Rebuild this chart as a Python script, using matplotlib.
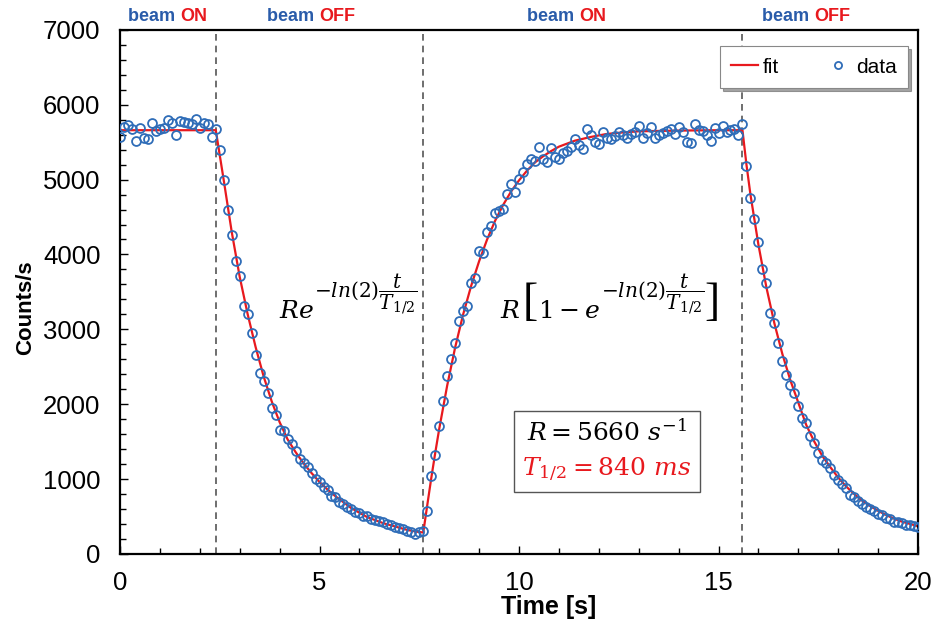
import numpy as np
import matplotlib
matplotlib.use("Agg")
import matplotlib.pyplot as plt
import matplotlib.transforms as mtransforms
from matplotlib.offsetbox import TextArea, VPacker, AnchoredOffsetbox
from matplotlib.ticker import MultipleLocator

plt.rcParams['font.family'] = ['Liberation Sans', 'DejaVu Sans']
plt.rcParams['mathtext.fontset'] = 'dejavuserif'

# measured counts, one point every 0.1 s from t = 0 to 20 s
counts = [
    # beam ON
    5570, 5700, 5730, 5680, 5520, 5690, 5560, 5540, 5760, 5650,
    5670, 5690, 5790, 5760, 5600, 5780, 5770, 5760, 5740, 5810,
    5690, 5750, 5740, 5570, 5680,
    # beam OFF
    5400, 5000, 4600, 4260, 3910, 3710, 3310, 3200, 2950, 2660,
    2420, 2310, 2150, 1950, 1860, 1660, 1640, 1530, 1470, 1380,
    1270, 1220, 1165, 1080, 1000, 960, 900, 850, 780, 760,
    690, 660, 620, 600, 560, 540, 510, 500, 470, 450,
    440, 420, 400, 390, 360, 350, 330, 310, 290, 260,
    290, 310,
    # beam ON
    570, 1035, 1325, 1705, 2040, 2375, 2600, 2820, 3110, 3245,
    3310, 3625, 3690, 4045, 4025, 4295, 4380, 4560, 4580, 4605,
    4805, 4940, 4830, 5005, 5095, 5205, 5275, 5250, 5430, 5280,
    5230, 5420, 5300, 5270, 5350, 5380, 5440, 5540, 5460, 5410,
    5670, 5590, 5500, 5470, 5630, 5560, 5540, 5580, 5630, 5600,
    5560, 5610, 5640, 5720, 5560, 5620, 5700, 5560, 5590, 5620,
    5650, 5680, 5610, 5700, 5640, 5500, 5490, 5740, 5660, 5650,
    5600, 5520, 5690, 5620, 5720, 5630, 5660, 5680, 5590, 5740,
    # beam OFF
    5185, 4760, 4470, 4160, 3800, 3625, 3220, 3090, 2820, 2575,
    2395, 2260, 2150, 1970, 1815, 1750, 1570, 1480, 1345, 1260,
    1215, 1150, 1060, 990, 940, 880, 790, 760, 700, 670,
    630, 600, 570, 530, 520, 480, 460, 430, 420, 410,
    390, 380, 370, 360,
]
t_data = np.arange(len(counts)) * 0.1

# fit curve
fit_t = [0.0, 2.4, 2.6, 2.8, 3.0, 3.2, 3.4, 3.6, 3.8, 4.0, 4.2, 4.4, 4.6, 4.8,
         5.0, 5.2, 5.4, 5.6, 5.8, 6.0, 6.2, 6.4, 6.6, 6.8, 7.0, 7.2, 7.4, 7.6,
         7.7, 7.8, 7.9, 8.0, 8.2, 8.4, 8.6, 8.8, 9.0, 9.2, 9.4, 9.6, 9.8,
         10.0, 10.2, 10.4, 10.6, 10.8, 11.0, 11.4, 11.8, 12.2, 12.6, 13.0,
         14.0, 15.0, 15.6, 15.7, 15.8, 16.0, 16.2, 16.4, 16.6, 16.8, 17.0,
         17.2, 17.4, 17.6, 17.8, 18.0, 18.2, 18.4, 18.6, 18.8, 19.0, 19.2,
         19.4, 19.6, 19.8, 20.0]
fit_y = [5660, 5660, 4990, 4300, 3700, 3200, 2760, 2370, 2040, 1760, 1530,
         1360, 1210, 1080, 960, 860, 770, 690, 610, 550, 490, 450, 410, 380,
         350, 320, 300, 285,
         650, 1010, 1350, 1670, 2250, 2760, 3200, 3580, 3910, 4200, 4450,
         4660, 4840, 4990, 5120, 5230, 5310, 5380, 5440, 5520, 5570, 5610,
         5630, 5645, 5655, 5660, 5660,
         5200, 4800, 4130, 3560, 3080, 2670, 2320, 2020, 1720, 1500, 1310,
         1160, 1020, 900, 800, 710, 640, 575, 520, 470, 430, 400, 370]

switch_times = [2.4, 7.6, 15.6]
beam_labels = [(1.5, 'ON'), (5.0, 'OFF'), (11.5, 'ON'), (17.4, 'OFF')]

blue = '#2f6db8'
red = '#e8191e'
label_blue = '#2a5caa'

fig = plt.figure(figsize=(9.34, 6.28), dpi=100)
ax = fig.add_axes([0.1285, 0.118, 0.8544, 0.8344])
renderer = fig.canvas.get_renderer()

for ts in switch_times:
    ax.axvline(ts, color='#555555', lw=1.2, ls=(0, (4, 3)), zorder=1)

ax.plot(fit_t, fit_y, color=red, lw=1.6, label='fit', zorder=2)
ax.plot(t_data, counts, 'o', ms=6.4, mfc='none', mec=blue, mew=1.3,
        label='data', zorder=3)

ax.set_xlim(0, 20)
ax.set_ylim(0, 7000)
ax.xaxis.set_major_locator(MultipleLocator(5))
ax.xaxis.set_minor_locator(MultipleLocator(1))
ax.yaxis.set_major_locator(MultipleLocator(1000))
ax.yaxis.set_minor_locator(MultipleLocator(200))
ax.tick_params(which='both', direction='in', labelsize=18.5)
ax.tick_params(which='major', length=6, width=1)
ax.tick_params(which='minor', length=4, width=1)
ax.tick_params(axis='x', which='major', pad=12)
ax.tick_params(axis='y', which='major', pad=14)
for sp in ax.spines.values():
    sp.set_linewidth(1.6)

ax.set_xlabel('Time [s]', fontsize=18, fontweight='bold', labelpad=0)
ax.xaxis.set_label_coords(0.5376, -0.078)
ax.set_ylabel('Counts/s', fontsize=16, fontweight='bold', labelpad=4)
ax.yaxis.set_label_coords(-0.105, 0.47)

# beam ON / OFF labels above the frame
trans = ax.get_xaxis_transform()
for xs, state in beam_labels:
    ax.text(xs, 1.01, 'beam ', transform=trans, ha='right', va='bottom',
            fontsize=13, fontweight='bold', color=label_blue)
    ax.text(xs, 1.01, state, transform=trans, ha='left', va='bottom',
            fontsize=13, fontweight='bold', color=red)


def formula(x, y, pieces):
    # pieces: (text, fontsize, raise in points, gap before in points, extra kw)
    cur = 0.0
    for s, size, dy, gap, kw in pieces:
        cur += gap
        tr = mtransforms.offset_copy(ax.transData, fig=fig, x=cur, y=dy, units='points')
        t = ax.text(x, y, s, transform=tr, fontsize=size, ha='left', va='baseline', **kw)
        cur += t.get_window_extent(renderer).width * 72 / fig.dpi


expo = r'$-ln(2)\dfrac{t}{T_{1/2}}$'
serif = dict(family='Liberation Serif')
formula(3.98, 3150, [(r'$Re$', 18, 0, 0, {}), (expo, 14.5, 14, 0.5, {})])
formula(9.52, 3150, [(r'$R$', 18, 0, 0, {}), ('[', 33, 2, 1.5, serif),
                     (r'$1-e$', 18, 0, 0.5, {}), (expo, 14.5, 14, 0.5, {}),
                     (']', 33, 2, 0, serif)])

line1 = TextArea(r'$R = 5660\ s^{-1}$', textprops=dict(fontsize=18, color='black'))
line2 = TextArea(r'$T_{1/2} = 840\ ms$', textprops=dict(fontsize=18, color=red))
pack = VPacker(children=[line1, line2], align='center', pad=0, sep=7)
box = AnchoredOffsetbox(loc='center', child=pack, pad=0.6, frameon=True,
                        bbox_to_anchor=(0.61, 0.195), bbox_transform=ax.transAxes,
                        borderpad=0)
box.patch.set_edgecolor('#555555')
box.patch.set_linewidth(1.0)
ax.add_artist(box)

leg = ax.legend(loc='upper right', bbox_to_anchor=(0.9875, 0.969), ncol=2,
                fontsize=15, frameon=True, fancybox=False, shadow=True,
                handlelength=1.3, handletextpad=0.2, columnspacing=2.2,
                markerscale=0.8, borderpad=0.55, borderaxespad=0)
leg.get_frame().set_edgecolor('#888888')
leg.get_frame().set_linewidth(0.8)

fig.savefig('out.png', dpi=100)
